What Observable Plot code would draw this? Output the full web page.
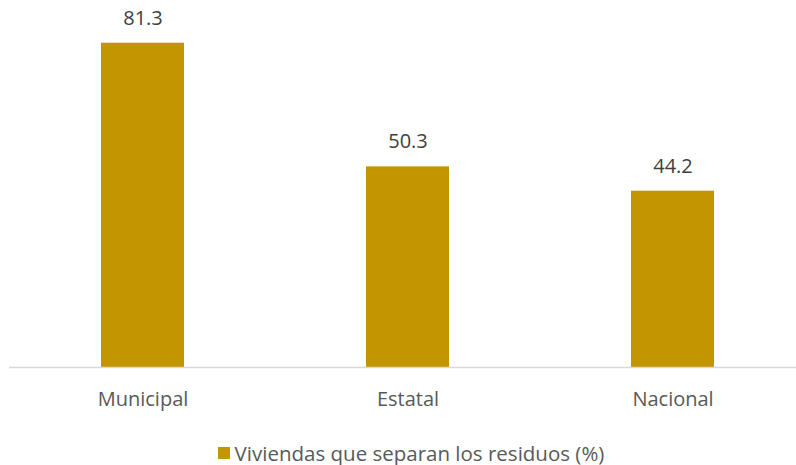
<!DOCTYPE html>
<html>
<head>
<meta charset="utf-8">
<script src="https://cdn.jsdelivr.net/npm/d3@7"></script>
<script src="https://cdn.jsdelivr.net/npm/@observablehq/plot@0.6"></script>
<style>
  body { margin: 0; background: #fff; font-family: "Open Sans", sans-serif; }
  #chart { width: 796px; height: 430px; }
  .legend { display: flex; justify-content: center; align-items: center; padding-left: 26px; padding-top: 5px; height: 35px; color: #595959; font-size: 20.5px; font-family: "Open Sans", sans-serif; }
  .legend .sw { width: 12px; height: 12px; background: #C39500; margin-right: 5px; }
</style>
</head>
<body>
<div id="chart"></div>
<script>
const categories = ["Municipal", "Estatal", "Nacional"];
const values = [81.3, 50.3, 44.2];
const seriesName = "Viviendas que separan los residuos (%)";
const barColor = "#C39500";

const data = categories.map((c, i) => ({ cat: c, val: values[i] }));

const plot = Plot.plot({
  width: 796,
  height: 430,
  marginTop: 8,
  marginBottom: 63,
  marginLeft: 9,
  marginRight: 0,
  style: { fontFamily: "'Open Sans', sans-serif", fontSize: "20px", color: "#595959", background: "#fff" },
  x: { domain: categories, range: [9.5, 804.5], paddingInner: 0.687, paddingOuter: 0.3435, label: null },
  y: { domain: [0, 90], axis: null },
  marks: [
    Plot.barY(data, { x: "cat", y: "val", fill: barColor }),
    Plot.ruleY([0], { stroke: "#d9d9d9", strokeWidth: 1.5 }),
    Plot.axisX({ tickSize: 0, tickPadding: 24, fontSize: 20, fill: "#595959" }),
    Plot.text(data, { x: "cat", y: "val", text: d => d.val.toFixed(1), dy: -25, fontSize: 20, fill: "#404040" })
  ]
});
document.getElementById("chart").appendChild(plot);
const leg = document.createElement("div");
leg.className = "legend";
leg.innerHTML = `<span class="sw"></span><span>${seriesName}</span>`;
document.body.appendChild(leg);
</script>
</body>
</html>
